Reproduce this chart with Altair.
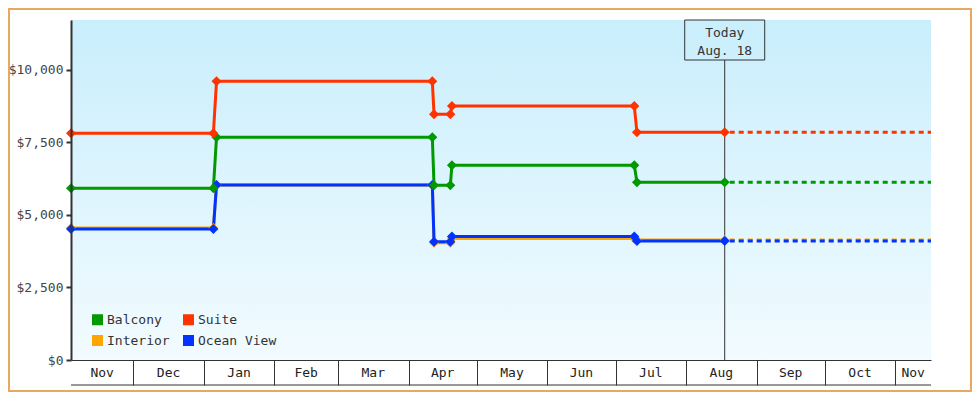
import altair as alt
import pandas as pd

# ---------------- data ----------------
dates = ["2024-11-03T14:38:00", "2025-01-05T05:00:00", "2025-01-06T14:00:00",
         "2025-04-11T11:00:00", "2025-04-12T05:00:00", "2025-04-19T09:00:00",
         "2025-04-20T02:00:00", "2025-07-09T06:00:00", "2025-07-10T10:00:00",
         "2025-08-18T00:00:00"]
domain_start = "2024-11-03T14:38:00"
domain_end = "2025-11-16T16:34:00"
today = "2025-08-18T00:00:00"

interior = [4555, 4555, 6034, 6034, 4045, 4045, 4190, 4190, 4140, 4140]
ocean_view = [4517, 4517, 6034, 6034, 4080, 4080, 4260, 4260, 4103, 4103]
balcony = [5920, 5920, 7678, 7678, 6023, 6023, 6713, 6713, 6126, 6126]
suite = [7817, 7817, 9610, 9610, 8472, 8472, 8759, 8759, 7851, 7851]

draw_order = ["Interior", "Ocean View", "Balcony", "Suite"]
# legend fills column by column: col 1 Balcony/Interior, col 2 Suite/Ocean View
legend_order = ["Balcony", "Interior", "Suite", "Ocean View"]
colors = {"Balcony": "#009900", "Suite": "#ff3300", "Interior": "#ffa500", "Ocean View": "#0033ff"}
values = {"Interior": interior, "Ocean View": ocean_view, "Balcony": balcony, "Suite": suite}

month_starts = ["2024-12-01", "2025-01-01", "2025-02-01", "2025-03-01", "2025-04-01",
                "2025-05-01", "2025-06-01", "2025-07-01", "2025-08-01", "2025-09-01",
                "2025-10-01", "2025-11-01"]
month_labels = ["Nov", "Dec", "Jan", "Feb", "Mar", "Apr", "May", "Jun", "Jul",
                "Aug", "Sep", "Oct", "Nov"]
y_ticks = [0, 2500, 5000, 7500, 10000]
y_max = 11724
today_lines = ["Today", "Aug. 18"]

# ---------------- tables ----------------
rows = []
for s in draw_order:
    for d, v in zip(dates, values[s]):
        rows.append({"date": d, "price": v, "cabin": s})
df = pd.DataFrame(rows)

proj_rows = []
for s in draw_order:
    proj_rows.append({"date": today, "price": values[s][-1], "cabin": s})
    proj_rows.append({"date": domain_end, "price": values[s][-1], "cabin": s})
proj = pd.DataFrame(proj_rows)

bounds = [pd.Timestamp(domain_start)] + [pd.Timestamp(m) for m in month_starts] + [pd.Timestamp(domain_end)]
mids = [(bounds[i] + (bounds[i + 1] - bounds[i]) / 2).strftime("%Y-%m-%dT%H:%M:%S") for i in range(len(bounds) - 1)]
labels_df = pd.DataFrame({"date": mids, "label": month_labels})

today_df = pd.DataFrame({"date": [today], "text": ["\n".join(today_lines)]})
one = pd.DataFrame({"a": [0]})

def dt(s):
    t = pd.Timestamp(s)
    return alt.DateTime(year=t.year, month=t.month, date=t.day, hours=t.hour, minutes=t.minute)

FONT = "DejaVu Sans Mono"
W, H = 860, 340

xscale = alt.Scale(domain=[dt(domain_start), dt(domain_end)], nice=False)
yscale = alt.Scale(domain=[0, y_max], nice=False, zero=True)
cscale = alt.Scale(domain=legend_order, range=[colors[c] for c in legend_order])
sscale = alt.Scale(domain=draw_order, range=[colors[c] for c in draw_order])
xaxis = alt.Axis(values=[dt(m) for m in month_starts], tickSize=25, tickColor="#333333",
                 tickWidth=1, labels=False, domainColor="#333333", domainWidth=1,
                 title=None, grid=False, zindex=1)
yaxis = alt.Axis(values=y_ticks, format="$,.0f", tickSize=5, tickWidth=2, tickColor="#333333",
                 domainColor="#333333", domainWidth=2, labelFont=FONT, labelFontSize=13,
                 labelColor="#444444", labelPadding=3, grid=False, title=None, zindex=1)

X = alt.X("date:T", scale=xscale, axis=xaxis)
Y = alt.Y("price:Q", scale=yscale, axis=yaxis)

bg = alt.Chart(one).mark_rect(
    fill=alt.LinearGradient(gradient="linear",
                            stops=[alt.GradientStop(color="#c9eefc", offset=0),
                                   alt.GradientStop(color="#f2fbff", offset=1)],
                            x1=0, x2=0, y1=0, y2=1)
).encode(x=alt.value(0), x2=alt.value(W), y=alt.value(0), y2=alt.value(H))

today_rule = alt.Chart(today_df).mark_rule(color="#333333", strokeWidth=1).encode(
    x=X, y=alt.value(40), y2=alt.value(H))

today_box = alt.Chart(today_df).mark_point(
    shape="M-1,-0.5H1V0.5H-1Z", size=6400, filled=False, stroke="#333333",
    strokeWidth=1, opacity=1).encode(x=X, y=alt.value(20))

today_text = alt.Chart(today_df).mark_text(
    font=FONT, fontSize=13, color="#333333", lineBreak="\n", lineHeight=18,
    baseline="middle", align="center").encode(x=X, y=alt.value(12.7), text="text:N")

lines = alt.Chart(df).mark_line(strokeWidth=3).encode(
    x=X, y=Y, stroke=alt.Stroke("cabin:N", scale=sscale, legend=None))

dashed = alt.Chart(proj).mark_line(strokeWidth=3, strokeDash=[5, 4], strokeDashOffset=-5).encode(
    x=X, y=Y, stroke=alt.Stroke("cabin:N", scale=sscale, legend=None))

points = alt.Chart(df).mark_point(shape="diamond", filled=True, size=100, opacity=1).encode(
    x=X, y=Y,
    color=alt.Color("cabin:N", scale=cscale,
                    legend=alt.Legend(title=None, orient="none", legendX=20, legendY=293,
                                      columns=2, symbolType="square", symbolSize=121,
                                      symbolStrokeWidth=0, labelFont=FONT, labelFontSize=13,
                                      labelColor="#333333", labelOffset=3, columnPadding=12,
                                      rowPadding=7, padding=0, symbolOpacity=1, zindex=1)))

month_text = alt.Chart(labels_df).mark_text(
    font=FONT, fontSize=13, color="#222222", baseline="middle", align="center").encode(
    x=X, y=alt.value(353), text="label:N")

bottom_rule = alt.Chart(one).mark_rule(color="#333333", strokeWidth=1).encode(
    x=alt.value(0), x2=alt.value(W), y=alt.value(365))

frame = alt.Chart(one).mark_rect(filled=False, stroke="#e8a862", strokeWidth=2).encode(
    x=alt.value(-62), x2=alt.value(900), y=alt.value(-11), y2=alt.value(371))

chart = alt.layer(bg, today_rule, today_box, today_text, lines, dashed, points,
                  month_text, bottom_rule, frame).properties(
    width=W, height=H,
    padding={"left": 63, "top": 12, "right": 41, "bottom": 32},
    autosize=alt.AutoSizeParams(type="none"),
    background="white",
).configure_view(stroke=None)

chart.save("out.html", embed_options={"renderer": "svg", "actions": False})
